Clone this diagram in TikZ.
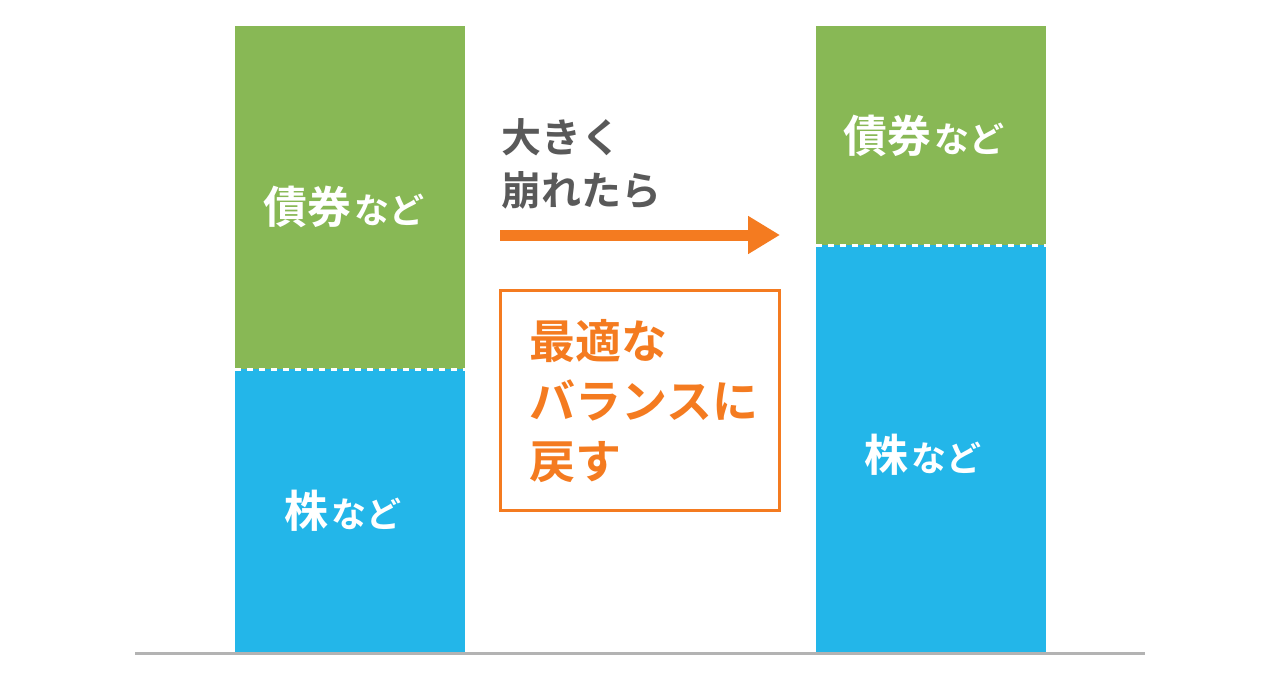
\documentclass[tikz,border=0pt]{standalone}
\usepackage{fontspec}
\setmainfont{Noto Sans CJK JP}[BoldFont={Noto Sans CJK JP Bold}]
\usetikzlibrary{arrows.meta}
\definecolor{bondgreen}{HTML}{88B855}
\definecolor{stockblue}{HTML}{23B6E9}
\definecolor{accent}{HTML}{F47B20}
\definecolor{darktext}{HTML}{595959}
\definecolor{axisgray}{HTML}{B3B3B3}
\tikzset{
  bar/.style={draw=none, inner sep=0pt, minimum width=230pt},
  divider/.style={draw=white, line width=3.5pt, dash pattern=on 6pt off 6pt},
  barlabel/.style={text=white, font=\bfseries, inner sep=0pt},
}
\newcommand{\kanjilabel}[2]{{\fontsize{44}{44}\selectfont #1}\hspace{3pt}{\fontsize{35}{35}\selectfont #2}}
\begin{document}
\begin{tikzpicture}[x=1pt,y=-1pt]
\useasboundingbox (0,0) rectangle (1280,682);
% left bar
\node[bar, fill=bondgreen, minimum height=343pt, anchor=north west] (lbond) at (235,26) {};
\node[bar, fill=stockblue, minimum height=283pt, anchor=north west] (lstock) at (235,369) {};
\draw[divider] (lbond.south west) -- (lbond.south east);
% right bar
\node[bar, fill=bondgreen, minimum height=219pt, anchor=north west] (rbond) at (816,26) {};
\node[bar, fill=stockblue, minimum height=407pt, anchor=north west] (rstock) at (816,245) {};
\draw[divider] (rbond.south west) -- (rbond.south east);
% axis
\coordinate (axl) at (135,653);
\coordinate (axr) at (1145,653);
\draw[axisgray, line width=3pt] (axl) -- (axr);
% labels
\node[barlabel] (lbondlabel) at (344,207) {\kanjilabel{債券}{など}};
\node[barlabel] (lstocklabel) at (343,511) {\kanjilabel{株}{など}};
\node[barlabel] (rbondlabel) at (924,136) {\kanjilabel{債券}{など}};
\node[barlabel] (rstocklabel) at (923,455) {\kanjilabel{株}{など}};
% arrow text
\node[anchor=north west, inner sep=0pt, align=left, text=darktext,
      font=\fontsize{40}{53}\selectfont\bfseries] (cond) at (501,118) {大きく\\崩れたら};
\coordinate (arrs) at (500,235);
\coordinate (arre) at (780,235);
\draw[accent, line width=11pt, -{Triangle[length=32pt,width=36pt]}] (arrs) -- (arre);
% box
\node[draw=accent, line width=3pt, minimum width=279pt, minimum height=220pt, inner sep=0pt] (box) at (639.5,400) {};
\node[anchor=north west, inner sep=0pt, align=left, text=accent,
      font=\fontsize{46}{60}\selectfont\bfseries] (boxtext) at (529,319) {最適な\\バランスに\\戻す};
\end{tikzpicture}
\end{document}
